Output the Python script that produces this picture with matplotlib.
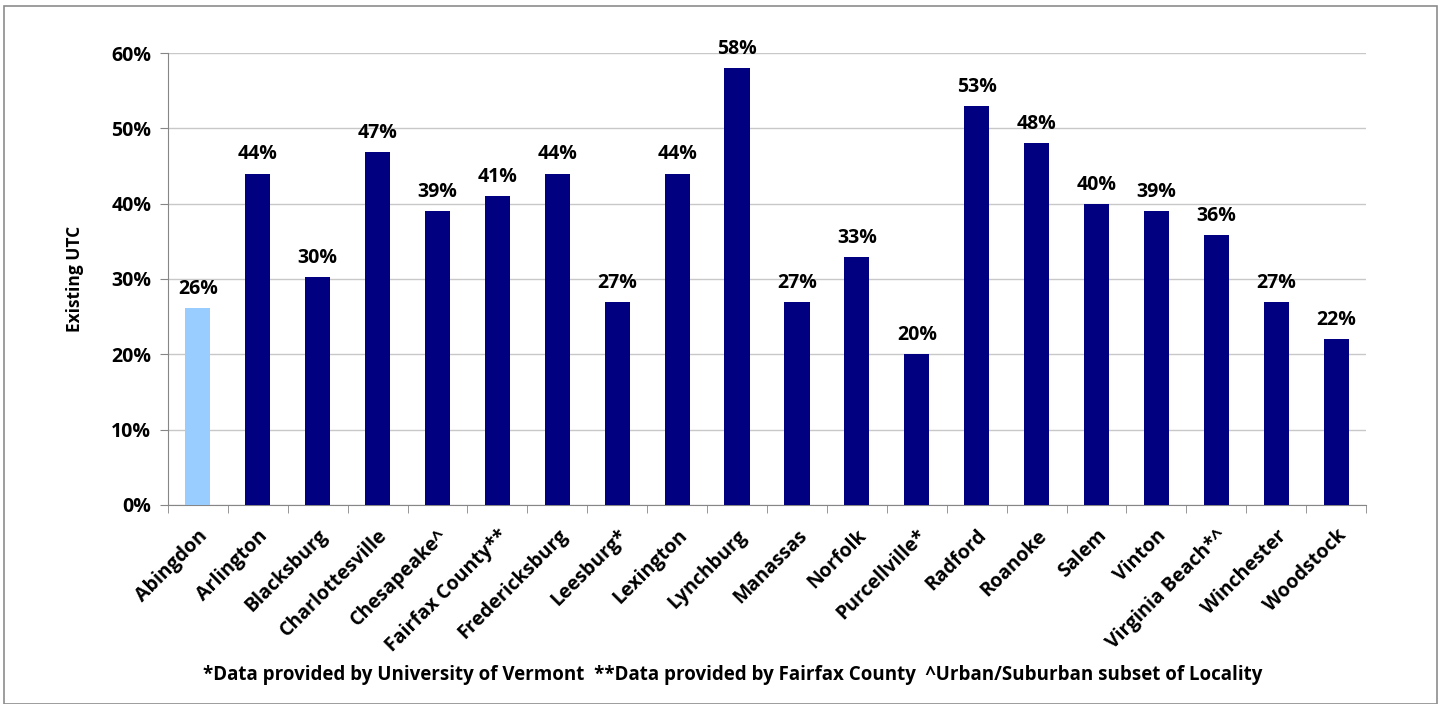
import matplotlib.pyplot as plt
import matplotlib.transforms as mtransforms
from matplotlib.patches import Rectangle
from matplotlib.ticker import FixedLocator, PercentFormatter

localities = [
    "Abingdon", "Arlington", "Blacksburg", "Charlottesville", "Chesapeake^",
    "Fairfax County**", "Fredericksburg", "Leesburg*", "Lexington", "Lynchburg",
    "Manassas", "Norfolk", "Purcellville*", "Radford", "Roanoke", "Salem",
    "Vinton", "Virginia Beach*^", "Winchester", "Woodstock",
]
utc = [26.2, 44, 30.2, 46.9, 39, 41, 44, 27, 44, 58,
       27, 32.9, 20, 53, 48, 40, 39, 35.8, 27, 22]
highlight = "Abingdon"

NAVY = "#000080"
LIGHT = "#99ccff"
GRID = "#c8c8c8"
AXIS = "#868686"

plt.rcParams["font.family"] = ["Open Sans", "DejaVu Sans"]
plt.rcParams["font.weight"] = "bold"

fig = plt.figure(figsize=(14.43, 7.04), dpi=100)
ax = fig.add_axes([0.1164, 0.2827, 0.8303, 0.642])

colors = [LIGHT if name == highlight else NAVY for name in localities]
x = range(len(localities))
ax.bar(x, utc, width=0.42, color=colors, zorder=3)

for xi, v in zip(x, utc):
    ax.text(xi, v + 1.2, f"{round(v):.0f}%", ha="center", va="bottom",
            fontsize=14, fontweight="bold")

ax.set_xlim(-0.5, len(localities) - 0.5)
ax.set_ylim(0, 60)
ax.set_yticks(range(0, 61, 10))
ax.yaxis.set_major_formatter(PercentFormatter(decimals=0))
ax.grid(axis="y", color=GRID, linewidth=1, zorder=0)

ax.set_xticks(list(x))
ax.set_xticklabels(localities, rotation=45, ha="right", rotation_mode="anchor",
                   fontsize=14, fontweight="bold")
shift = mtransforms.ScaledTranslation(-8 / 100, 0, fig.dpi_scale_trans)
for lab in ax.get_xticklabels():
    lab.set_transform(lab.get_transform() + shift)
ax.xaxis.set_minor_locator(FixedLocator([i - 0.5 for i in range(len(localities) + 1)]))
ax.tick_params(axis="x", which="major", length=0, pad=15)
ax.tick_params(axis="x", which="minor", length=6, color=AXIS, direction="out")
ax.tick_params(axis="y", length=6, color=AXIS, labelsize=14, pad=6)
for lab in ax.get_yticklabels():
    lab.set_fontweight("bold")

for side in ["top", "right"]:
    ax.spines[side].set_visible(False)
for side in ["left", "bottom"]:
    ax.spines[side].set_color(AXIS)

ax.set_ylabel("Existing UTC", fontsize=12.5, fontweight="bold", labelpad=20)

fig.text(0.508, 0.041,
         "*Data provided by University of Vermont  **Data provided by Fairfax County  ^Urban/Suburban subset of Locality",
         ha="center", va="center", fontsize=13.5, fontweight="bold")

fig.patches.append(Rectangle((4 / 1443, 0), 1433 / 1443, 698 / 704,
                             transform=fig.transFigure, fill=False,
                             edgecolor="#8c8c8c", linewidth=1.2))

fig.savefig("out.png", dpi=100)
